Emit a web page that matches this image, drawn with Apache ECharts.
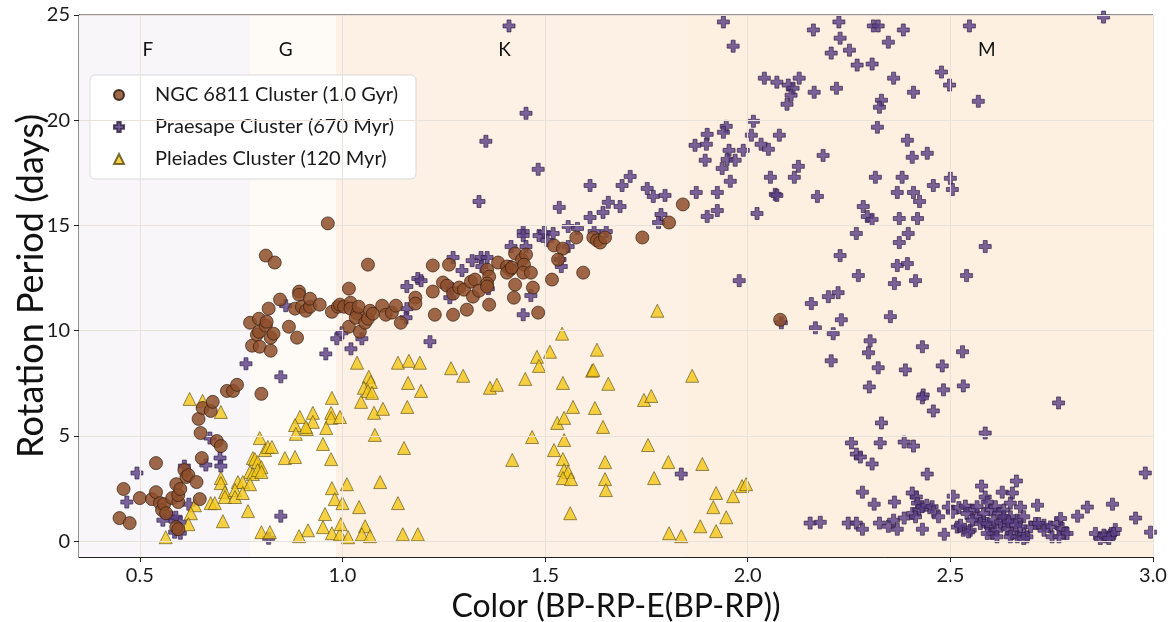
<!DOCTYPE html>
<html>
<head>
<meta charset="utf-8">
<script src="https://cdn.jsdelivr.net/npm/echarts@6/dist/echarts.min.js"></script>
<style>
  html, body { margin: 0; padding: 0; background: #fff; }
  #chart { width: 1174px; height: 622px; }
</style>
</head>
<body>
<div id="chart"></div>
<script>
// 光谱型分区 (颜色区间)
var bandNames = ['F', 'G', 'K', 'M'];
var bandEdges = [0.35, 0.772, 0.984, 1.85, 3.0];
var bandLabelX = [0.52, 0.86, 1.40, 2.59];
var bandLabelY = 23.35;

var xTicks = [0.5, 1.0, 1.5, 2.0, 2.5, 3.0];
var yTicks = [0, 5, 10, 15, 20, 25];

var seriesNames = ['NGC 6811 Cluster (1.0 Gyr)', 'Praesape Cluster (670 Myr)', 'Pleiades Cluster (120 Myr)'];

// NGC 6811  [color, period]
var ngc6811 = [
  [0.45,1.10],[0.475,0.86],[0.46,2.48],[0.50,2.05],[0.53,2.00],[0.54,3.71],[0.54,2.33],[0.55,1.81],[0.555,1.48],[0.56,1.76],
  [0.565,1.33],[0.58,2.05],[0.59,2.71],[0.595,1.86],[0.595,2.19],[0.60,2.48],[0.61,3.38],[0.615,3.05],[0.62,3.14],[0.64,2.81],
  [0.648,2.00],[0.59,0.67],[0.595,0.57],[0.645,5.81],[0.65,5.14],[0.653,3.95],[0.655,6.33],[0.675,6.19],[0.68,6.62],[0.69,4.76],
  [0.70,4.52],[0.715,7.14],[0.73,7.14],[0.74,7.43],[0.80,7.00],
  [0.772,10.38],[0.777,9.29],[0.789,9.81],[0.794,10.57],[0.794,9.95],[0.796,9.24],[0.811,10.24],[0.813,10.43],[0.818,11.05],[0.823,9.67],
  [0.823,9.05],[0.83,9.86],[0.811,13.57],[0.833,13.24],[0.846,11.48],[0.868,10.19],[0.883,11.05],[0.888,9.67],[0.893,11.86],[0.893,11.71],
  [0.90,11.14],[0.91,10.95],[0.92,11.14],[0.92,11.52],[0.944,11.24],[0.964,15.10],[0.974,10.90],[0.989,11.14],[0.994,11.24],
  [1.004,11.14],[1.016,12.00],[1.02,11.33],[1.02,11.05],[1.016,10.19],[1.036,10.81],[1.033,10.62],[1.04,11.14],[1.043,9.95],[1.056,10.38],
  [1.063,13.14],[1.063,10.57],[1.068,10.95],[1.075,10.81],[1.098,11.19],[1.107,10.76],[1.122,10.86],[1.132,11.19],[1.144,10.38],[1.18,11.57],
  [1.18,11.29],[1.223,13.10],[1.223,11.86],[1.228,10.76],[1.248,12.29],[1.258,12.14],[1.263,13.14],[1.273,11.76],[1.273,10.76],[1.288,12.05],
  [1.30,11.95],[1.307,11.00],[1.317,12.33],[1.327,12.43],[1.322,11.62],[1.337,11.90],[1.357,12.90],[1.362,12.57],[1.357,12.24],[1.357,12.10],
  [1.362,11.24],[1.384,13.24],[1.406,13.05],[1.414,12.90],[1.406,12.76],[1.418,13.00],[1.426,13.67],[1.443,13.38],[1.453,13.62],[1.448,13.14],
  [1.446,12.76],[1.465,12.76],[1.426,12.19],[1.47,12.05],[1.423,11.57],[1.483,10.86],[1.522,14.05],[1.544,13.90],[1.532,13.38],[1.517,12.43],
  [1.577,14.43],[1.594,12.76],[1.619,14.43],[1.628,14.29],[1.636,14.19],[1.648,14.43],[1.74,14.43],[1.806,15.14],[1.84,16.00],[2.08,10.52]
];

// Praesepe
var praesepe = [
  [0.493,3.24],[0.468,1.86],[0.61,3.57],[0.673,4.90],[0.663,3.62],[0.698,3.95],[0.70,3.57],[0.621,1.76],[0.577,1.14],[0.589,1.14],
  [0.557,1.00],[0.60,0.90],[0.586,0.43],[0.60,0.38],[0.848,1.19],[0.818,0.14],[0.848,7.81],[0.86,11.19],[0.762,8.43],[0.959,8.90],
  [0.986,9.62],[0.999,9.90],[1.021,9.14],[1.048,9.62],[1.159,12.10],[1.186,12.48],[1.194,12.38],[1.159,11.05],[1.157,10.62],[1.216,9.48],
  [1.273,13.48],[1.295,12.86],[1.32,13.33],[1.342,13.48],[1.357,13.48],[1.344,13.05],[1.337,16.14],[1.27,12.00],[1.265,11.57],[1.36,12.00],
  [1.416,14.00],[1.414,13.05],[1.446,14.71],[1.446,14.52],[1.453,14.00],[1.465,11.67],[1.446,10.76],[1.483,17.67],[1.485,14.52],[1.498,14.67],
  [1.52,14.62],[1.505,14.29],[1.535,15.86],[1.557,14.00],[1.557,14.95],[1.58,14.86],[1.537,13.38],[1.54,13.05],[1.611,16.90],[1.611,15.38],
  [1.621,14.71],[1.651,14.71],[1.643,15.62],[1.656,16.10],[1.685,15.90],[1.69,16.90],[1.71,17.33],[1.752,16.76],[1.767,16.38],[1.796,16.43],
  [1.786,15.52],[1.78,15.14],[1.411,24.48],[1.453,20.33],[1.354,19.00],[1.836,3.19],
  [1.94,24.67],[1.964,23.52],[2.041,22.00],[2.072,21.81],[2.10,21.67],[2.112,21.52],[2.107,21.19],[2.097,20.76],[2.127,22.00],[2.014,19.95],
  [2.009,19.29],[2.078,19.29],[2.033,18.86],[2.051,18.62],[1.947,19.71],[1.94,19.43],[1.90,19.33],[1.898,18.86],[1.87,18.81],[1.954,18.57],
  [1.989,18.57],[1.949,18.14],[1.969,18.10],[1.895,18.10],[1.937,17.71],[1.957,17.10],[2.056,17.29],[2.115,17.29],[2.125,17.81],[2.068,16.48],
  [1.873,16.57],[1.925,16.57],[1.90,15.43],[1.925,15.71],[2.023,15.57],[2.072,16.43],[1.979,12.38],[2.083,10.38],
  [2.162,24.29],[2.225,24.67],[2.228,23.90],[2.206,23.19],[2.251,23.33],[2.27,22.62],[2.307,22.67],[2.31,24.48],[2.322,24.48],[2.384,24.29],
  [2.347,23.71],[2.36,22.00],[2.547,24.48],[2.878,24.90],[2.478,22.29],[2.498,21.67],[2.569,20.90],[2.409,21.33],[2.164,21.33],[2.219,21.52],
  [2.33,20.95],[2.325,20.62],[2.32,19.67],[2.394,19.05],[2.406,18.24],[2.443,18.43],[2.186,18.33],[2.315,17.29],[2.381,17.29],[2.458,16.90],
  [2.50,17.24],[2.505,16.71],[2.369,16.57],[2.409,16.57],[2.172,16.38],
  [2.424,16.14],[2.285,15.90],[2.295,15.43],[2.307,15.29],[2.374,15.33],[2.419,15.33],[2.268,14.62],[2.374,14.19],[2.396,14.62],[2.586,14.00],
  [2.228,13.57],[2.369,13.10],[2.394,13.19],[2.273,12.62],[2.362,12.24],[2.414,12.38],[2.54,12.62],[2.157,11.29],[2.199,11.62],[2.223,11.81],
  [2.352,10.67],[2.231,10.52],[2.167,10.14],[2.211,9.86],[2.302,9.52],[2.298,8.95],[2.431,9.24],[2.53,9.00],[2.206,8.57],[2.322,8.24],
  [2.389,8.14],[2.48,8.33],
  [2.30,7.33],[2.433,6.95],[2.431,6.81],[2.483,7.19],[2.532,7.38],[2.458,6.19],[2.767,6.57],[2.33,5.62],[2.586,5.14],[2.256,4.67],
  [2.327,4.67],[2.386,4.71],[2.409,4.52],[2.268,4.14],[2.278,4.00],[2.307,3.67],[2.443,3.19],[2.981,3.24],[2.283,2.33],[2.312,1.76],
  [2.362,1.86],[2.154,0.86],[2.179,0.90],[2.248,0.86],[2.268,0.86],[2.283,0.57],[2.325,0.86],[2.347,0.71],[2.36,1.00],[2.369,0.57],
  [2.386,1.10],[2.406,2.29],[2.416,2.10],[2.419,1.81],[2.431,0.57],[2.485,0.33],[2.507,2.14],[2.495,1.62],[2.505,1.38],[2.577,2.62],
  [2.586,2.10],[2.591,1.86],[2.628,2.33],[2.653,2.29],[2.663,2.86],[2.648,1.81],[2.673,1.62],[2.715,1.71],[2.838,1.62],[2.90,1.76],
  [2.814,1.19],[2.957,1.10],[2.994,0.43],[2.517,0.67],[2.532,0.52],[2.549,0.52],[2.525,0.76],[2.545,0.44],
  [2.521,1.60],[2.537,1.67],[2.554,1.48],[2.566,1.16],[2.582,0.92],[2.599,0.68],[2.603,0.37],[2.615,0.52],[2.632,0.84],[2.640,0.60],
  [2.652,0.37],[2.665,0.21],[2.681,0.37],[2.689,0.21],[2.698,0.68],[2.710,0.84],[2.731,0.76],[2.747,0.68],[2.763,0.84],[2.772,1.08],
  [2.776,0.60],[2.780,0.37],[2.788,0.37],[2.751,0.21],[2.768,0.21],[2.599,1.48],[2.611,1.64],[2.619,1.32],[2.632,1.48],[2.648,1.16],
  [2.665,1.00],[2.681,1.16],[2.582,1.32],[2.566,1.64],[2.541,1.32],[2.554,1.00],[2.574,0.84],[2.591,0.84],[2.607,1.00],[2.624,0.92],
  [2.673,0.68],[2.718,0.84],[2.731,0.52],[2.632,1.16],[2.644,0.92],[2.661,0.76],[2.591,0.37],[2.615,0.21],[2.648,0.21],[2.681,0.13],
  [2.407,1.32],[2.422,1.48],[2.430,1.64],[2.442,1.71],[2.455,1.64],[2.459,1.40],[2.471,1.16],[2.414,1.16],
  [2.858,0.37],[2.870,0.13],[2.883,0.21],[2.895,0.29],[2.907,0.56],[2.903,0.37],[2.879,0.29],[2.891,0.13]
];

// Pleiades
var pleiades = [
  [0.623,6.76],[0.655,6.67],[0.70,6.14],[1.065,7.81],[1.07,7.57],[1.053,7.29],[1.063,7.14],[1.073,7.05],[1.162,7.52],[1.194,7.14],
  [1.046,6.62],[1.078,6.10],[1.10,6.29],[1.16,6.38],[0.974,6.81],[0.927,6.10],[0.927,5.67],[0.895,5.90],[0.883,5.52],[0.912,5.33],
  [0.91,5.43],[0.972,6.10],[0.972,5.86],[0.994,5.90],[0.96,5.38],[0.885,5.10],[1.08,5.05],[0.796,4.90],[0.952,4.62],[1.152,4.43],
  [0.809,4.33],[0.816,4.48],[0.826,4.48],[0.858,3.95],[0.883,4.00],[0.972,3.90],[0.779,3.95],[0.784,3.90],[0.791,3.76],[0.80,3.52],
  [0.772,3.29],[0.779,3.19],[0.791,3.38],[0.80,3.29],[0.70,3.00],[0.70,2.76],[0.742,2.81],[0.754,2.81],[0.772,2.71],[0.71,2.33],
  [0.71,2.10],[0.735,2.43],[0.735,2.10],[0.754,2.29],[0.675,1.81],[0.685,1.81],[0.636,1.71],[0.626,1.33],[0.62,0.81],[0.564,0.19],
  [0.705,0.95],[0.767,1.43],[0.80,0.43],[0.821,0.43],[0.974,2.52],[1.011,2.71],[1.093,2.81],[0.981,2.00],[1.00,1.81],[1.041,1.62],
  [1.137,1.81],[0.957,1.29],[0.952,0.67],[0.974,0.38],[0.994,0.33],[1.014,0.19],[0.996,0.81],[0.915,0.52],[0.893,0.24],[1.056,0.71],
  [1.048,0.33],[1.068,0.24],[1.149,0.33],[1.186,0.33],
  [1.036,8.48],[1.137,8.48],[1.164,8.57],[1.191,8.48],
  [1.268,8.22],[1.298,7.86],[1.364,7.29],[1.381,7.43],[1.451,7.71],[1.544,7.52],[1.616,8.10],[1.656,7.48],[1.863,7.86],[1.569,6.38],
  [1.623,6.33],[1.53,5.62],[1.547,5.86],[1.643,5.43],[1.744,6.71],[1.762,6.90],[1.468,4.95],[1.547,4.81],[1.522,4.33],[1.419,3.86],
  [1.544,3.90],[1.547,3.38],[1.557,3.29],[1.544,3.00],[1.564,2.95],[1.648,3.76],[1.648,2.95],[1.65,2.43],[1.562,1.33],[1.754,4.57],
  [1.769,3.00],[1.804,3.76],[1.888,3.67],[1.922,2.29],[1.964,2.14],[1.986,2.62],[1.996,2.71],[1.915,1.62],[1.947,1.14],[1.883,0.71],
  [1.922,0.48],[1.806,0.38],[1.836,0.24],
  [1.777,10.95],[1.542,9.86],[1.628,9.10],[1.512,9.00],[1.48,8.76],[1.485,8.33],[1.619,8.14]
];

var bandColors = ['#f8f6f9', '#fefaf6', '#fdf0e4', '#fdf0e1'];
var FONT = 'Lato, "Open Sans", "DejaVu Sans", sans-serif';
var crossPath = 'path://M-1,-3L1,-3L1,-1L3,-1L3,1L1,1L1,3L-1,3L-1,1L-3,1L-3,-1L-1,-1Z';

var myChart = echarts.init(document.getElementById('chart'));

// 背景色带
var areaData = [];
for (var i = 0; i < bandNames.length; i++) {
  areaData.push([
    { xAxis: bandEdges[i], itemStyle: { color: bandColors[i] } },
    { xAxis: bandEdges[i + 1] }
  ]);
}
// 网格线
var gridData = [];
for (var i = 0; i < xTicks.length; i++) gridData.push({ xAxis: xTicks[i] });
for (var i = 0; i < yTicks.length; i++) gridData.push({ yAxis: yTicks[i] });
// 字母标注
var letterData = [];
for (var i = 0; i < bandNames.length; i++) letterData.push({ value: [bandLabelX[i], bandLabelY], name: bandNames[i] });

myChart.setOption({
  animation: false,
  backgroundColor: '#fff',
  textStyle: { fontFamily: FONT },
  grid: {
    left: 79, right: 21, top: 15, bottom: 65,
    outerBoundsMode: 'none',
    show: true, borderColor: '#222', borderWidth: 1, backgroundColor: 'transparent'
  },
  legend: {
    data: seriesNames,
    orient: 'vertical',
    left: 90, top: 75,
    padding: [10, 18, 10, 23],
    itemGap: 12,
    itemWidth: 10, itemHeight: 10,
    backgroundColor: '#fff',
    borderColor: '#d9d9d9', borderWidth: 1, borderRadius: 5,
    textStyle: { fontSize: 20, fontFamily: FONT, color: '#1a1a1a', padding: [0, 0, 0, 26] }
  },
  xAxis: {
    type: 'value', min: 0.35, max: 3.0,
    name: 'Color (BP-RP-E(BP-RP))', nameLocation: 'middle', nameGap: 28,
    nameTextStyle: { fontSize: 32, fontFamily: FONT, color: '#111' },
    axisLine: { onZero: false, lineStyle: { color: '#222', width: 1 } },
    axisTick: { customValues: xTicks, length: 5, lineStyle: { color: '#222' } },
    axisLabel: { customValues: xTicks, fontSize: 20, color: '#1a1a1a', margin: 9,
      formatter: function (v) { return v.toFixed(1); } },
    splitLine: { show: false }
  },
  yAxis: {
    type: 'value', min: -0.75, max: 25,
    name: 'Rotation Period (days)', nameLocation: 'middle', nameGap: 30,
    nameMoveOverlap: false,
    nameTextStyle: { fontSize: 36, fontFamily: FONT, color: '#111' },
    axisLine: { onZero: false, lineStyle: { color: '#222', width: 1 } },
    axisTick: { customValues: yTicks, length: 5, lineStyle: { color: '#222' } },
    axisLabel: { customValues: yTicks, fontSize: 20, color: '#1a1a1a', margin: 9 },
    splitLine: { show: false }
  },
  series: [
    {
      name: 'bands', type: 'scatter', data: [], z: 0, silent: true,
      markArea: { silent: true, data: areaData }
    },
    {
      name: 'grid', type: 'scatter', data: [], z: 1, silent: true,
      markLine: {
        silent: true, symbol: ['none', 'none'], label: { show: false },
        lineStyle: { color: '#e9e2da', width: 1, type: 'solid' },
        data: gridData
      }
    },
    {
      name: seriesNames[1], type: 'scatter', z: 3,
      symbol: crossPath, symbolSize: 12,
      itemStyle: { color: '#5a3d86', borderColor: '#2a1c3e', borderWidth: 0.8 },
      data: praesepe
    },
    {
      name: seriesNames[2], type: 'scatter', z: 4,
      symbol: 'triangle', symbolSize: 13,
      itemStyle: { color: '#f2c716', borderColor: '#5a4a12', borderWidth: 0.8 },
      data: pleiades
    },
    {
      name: seriesNames[0], type: 'scatter', z: 5,
      symbol: 'circle', symbolSize: 13,
      itemStyle: { color: '#8d4d2a', opacity: 0.85, borderColor: '#2e1a0e', borderWidth: 0.8 },
      data: ngc6811
    },
    {
      name: 'letters', type: 'scatter', z: 6, silent: true,
      symbolSize: 0,
      itemStyle: { opacity: 1 },
      label: { show: true, position: 'inside', formatter: '{b}', fontSize: 19, color: '#111', opacity: 1, fontFamily: FONT },
      data: letterData
    }
  ]
});
</script>
</body>
</html>
